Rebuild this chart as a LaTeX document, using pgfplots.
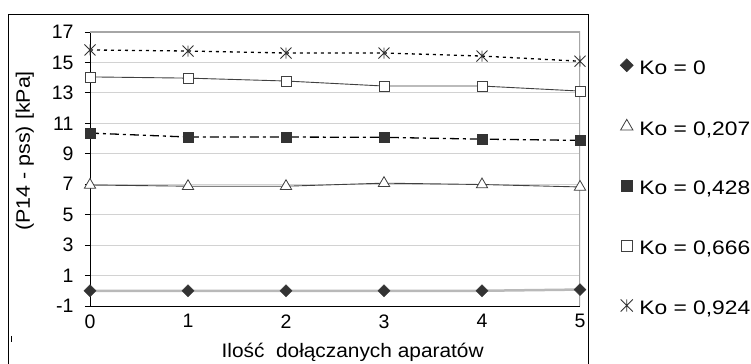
\documentclass[border=0pt]{standalone}
\usepackage{fontspec}
\setmainfont{Liberation Sans}
\usepackage{graphicx}
\usepackage{pgfplots}
\pgfplotsset{compat=1.18}

\pgfdeclareplotmark{xstar}{%
 \pgfpathmoveto{\pgfqpoint{-\pgfplotmarksize}{-\pgfplotmarksize}}%
 \pgfpathlineto{\pgfqpoint{\pgfplotmarksize}{\pgfplotmarksize}}%
 \pgfpathmoveto{\pgfqpoint{-\pgfplotmarksize}{\pgfplotmarksize}}%
 \pgfpathlineto{\pgfqpoint{\pgfplotmarksize}{-\pgfplotmarksize}}%
 \pgfpathmoveto{\pgfqpoint{0pt}{-\pgfplotmarksize}}%
 \pgfpathlineto{\pgfqpoint{0pt}{\pgfplotmarksize}}%
 \pgfusepathqstroke}

\definecolor{dk}{HTML}{333333}
\definecolor{ln}{HTML}{404040}

\newcommand{\fs}{\fontsize{19.5bp}{22bp}\selectfont}

\begin{document}
\begin{tikzpicture}
\useasboundingbox (0bp,0bp) rectangle (751bp,364bp);
\fill[white] (0bp,0bp) rectangle (751bp,364bp);
\draw[black, line width=1bp] (8bp,-2bp) -- (8bp,349bp) -- (588bp,349bp) -- (588bp,-2bp);
\draw[black, line width=1bp] (11.5bp,28bp) -- (11.5bp,22bp);
\begin{axis}[
  at={(90bp,58bp)}, anchor=south west,
  width=490bp, height=274bp, scale only axis,
  xmin=0, xmax=5, ymin=-1, ymax=17,
  xtick={0,1,2,3,4,5}, ytick={-1,1,3,5,7,9,11,13,15,17},
  axis x line*=bottom, axis y line*=left,
  axis line style={black, line width=1bp},
  ymajorgrids, grid style={gray!35, line width=0.9bp},
  tick align=outside, major tick length=5bp,
  xtick style={draw=none},
  ytick style={black, line width=0.9bp},
  tick label style={font=\fs},
  /pgf/number format/assume math mode=true,
  yticklabel style={xshift=-8bp},
  xticklabel style={yshift=0bp},
  xlabel={\scalebox{1.07}[1]{Ilość\ \ dołączanych aparatów}},
  xlabel style={font=\fs, at={(axis description cs:0.536,-0.168)}, anchor=center},
  ylabel={\scalebox{1.1}[1]{(P14 - pss) [kPa]}},
  ylabel style={font=\fs, at={(axis description cs:-0.133,0.566)}, anchor=center},
  legend style={draw=none, fill=none, at={(axis description cs:1.0817,0.903)},
    anchor=north west, inner sep=0pt, row sep=41bp, column sep=6bp, font=\fs,
    nodes={inner sep=0pt, text height=14bp, text depth=4bp}},
  legend cell align=left,
  legend image code/.code={%
    \draw[#1, every mark/.append style={scale=1.1}] plot coordinates {(0bp,4bp)};
    \path[draw=none, fill=none] (-6bp,0bp) -- (6bp,0bp);},
]
\addplot[gray!55, line width=2.5bp, mark=square*, mark size=4.2bp,
  mark options={rotate=45, fill=dk, draw=dk, line width=0.5bp, solid}]
  coordinates {(0,0.0) (1,0.0) (2,0.0) (3,0.0) (4,0.0) (5,0.08)};
\addlegendentry{\scalebox{1.17}[1]{Ko = 0}}
\addplot[ln, line width=0.9bp, mark=triangle*, mark size=6.5bp,
  mark options={fill=white, draw=ln, line width=0.8bp, solid}]
  coordinates {(0,6.95) (1,6.87) (2,6.87) (3,7.07) (4,6.98) (5,6.82)};
\addlegendentry{\scalebox{1.17}[1]{Ko = 0,207}}
\addplot[black, line width=1.3bp, dash pattern=on 9bp off 4bp on 3bp off 4bp,
  mark=square*, mark size=5bp,
  mark options={fill=dk, draw=dk, line width=0.5bp, solid}]
  coordinates {(0,10.36) (1,10.1) (2,10.1) (3,10.08) (4,9.96) (5,9.88)};
\addlegendentry{\scalebox{1.17}[1]{Ko = 0,428}}
\addplot[ln, line width=0.9bp, mark=square*, mark size=5bp,
  mark options={fill=white, draw=ln, line width=0.8bp, solid}]
  coordinates {(0,14.05) (1,13.97) (2,13.78) (3,13.45) (4,13.45) (5,13.12)};
\addlegendentry{\scalebox{1.17}[1]{Ko = 0,666}}
\addplot[black, line width=1.3bp, dash pattern=on 3bp off 4bp,
  mark=xstar, mark size=5.5bp,
  mark options={draw=dk, line width=0.9bp, solid}]
  coordinates {(0,15.82) (1,15.75) (2,15.62) (3,15.62) (4,15.42) (5,15.08)};
\addlegendentry{\scalebox{1.17}[1]{Ko = 0,924}}
\draw[gray!70, line width=1.5bp] (rel axis cs:0,1) -- (rel axis cs:1,1) -- (rel axis cs:1,0);
\end{axis}
\end{tikzpicture}
\end{document}
